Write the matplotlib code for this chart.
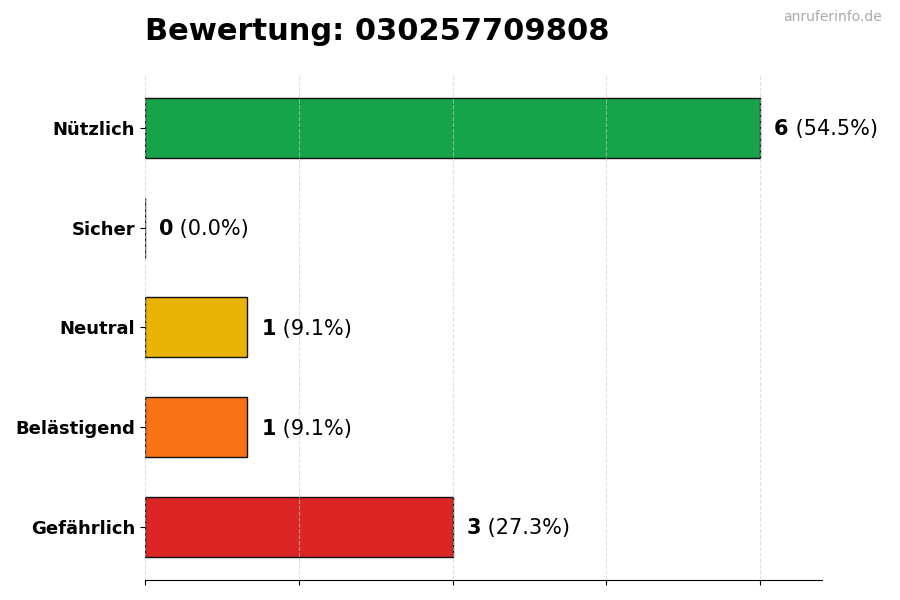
import matplotlib
matplotlib.use("Agg")
import matplotlib.pyplot as plt

# data (top to bottom as in the chart)
categories = ['Nützlich', 'Sicher', 'Neutral', 'Belästigend', 'Gefährlich']
counts = [6, 0, 1, 1, 3]
colors = ['#16a34a', '#6b7280', '#eab308', '#f97316', '#dc2626']
number = '030257709808'

total = sum(counts)
pos = list(range(len(categories)))[::-1]

fig = plt.figure(figsize=(9, 6), dpi=100)
ax = fig.add_axes([0.161, 0.0333, 0.752, 0.842])

ax.barh(pos, counts, height=0.6, color=colors, edgecolor='#111111', linewidth=1)
ax.set_xlim(0, max(counts) * 1.1)
ax.set_xticks([0, 1.5, 3, 4.5, 6])
ax.set_xticklabels([])
ax.set_yticks(pos)
ax.set_yticklabels(categories, fontsize=13, fontweight='bold')
ax.grid(axis='x', linestyle='--', color='#cccccc', alpha=0.6, linewidth=0.8)
ax.grid(axis='y', visible=False)
for s in ['top', 'right', 'left']:
    ax.spines[s].set_visible(False)

for p, c in zip(pos, counts):
    t = ax.annotate(str(c), xy=(c, p), xytext=(10, -1), textcoords='offset points',
                    va='center', ha='left', fontsize=15, fontweight='bold')
    pct = 100.0 * c / total
    ax.annotate(' (%.1f%%)' % pct, xy=(1, 0), xycoords=t, va='bottom', ha='left',
                fontsize=15)

fig.text(0.161, 0.933, 'Bewertung: ' + number, fontsize=22, fontweight='bold',
         ha='left', va='baseline')
fig.text(0.98, 0.983, 'anruferinfo.de', fontsize=10, color='#aaaaaa',
         ha='right', va='top')

fig.savefig('out.png', dpi=100)
